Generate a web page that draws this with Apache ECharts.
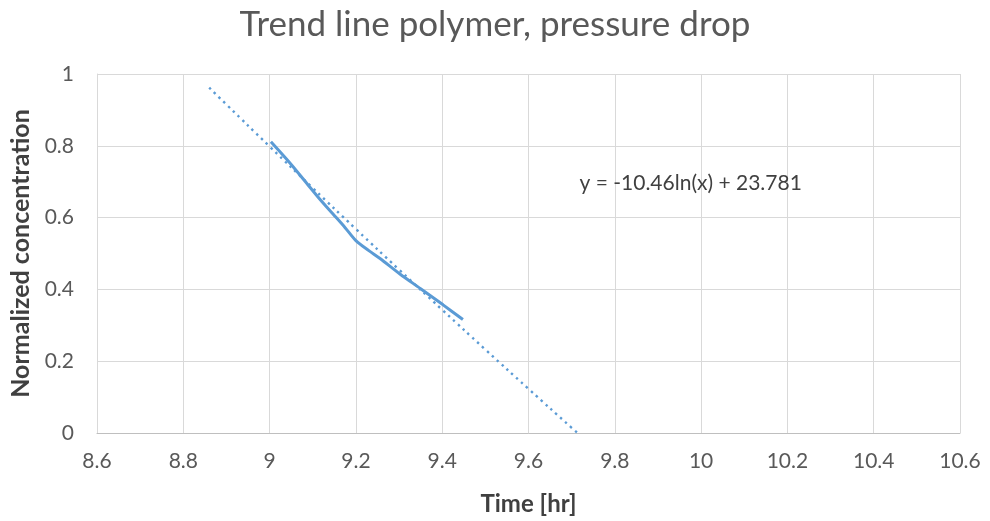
<!DOCTYPE html>
<html>
<head>
<meta charset="utf-8">
<script src="https://cdn.jsdelivr.net/npm/echarts@6/dist/echarts.min.js"></script>
<style>
  html, body { margin: 0; padding: 0; background: #fff; }
  #chart { width: 990px; height: 521px; }
</style>
</head>
<body>
<div id="chart"></div>
<script>
// Measured pressure-drop curve (time in hours, normalized concentration)
var timeHr = [9.003, 9.05, 9.085, 9.116, 9.147, 9.175, 9.2, 9.23, 9.256, 9.302, 9.35, 9.402, 9.448];
var concentration = [0.811, 0.748, 0.697, 0.652, 0.61, 0.572, 0.536, 0.508, 0.486, 0.443, 0.402, 0.357, 0.316];

// Logarithmic trend line: y = a*ln(x) + b
var trendA = -10.46;
var trendB = 23.781;
var trendXs = [8.86, 8.9, 9.0, 9.1, 9.2, 9.3, 9.4, 9.5, 9.6, 9.7, 9.714];
var trendLabel = 'y = -10.46ln(x) + 23.781';

var xTicks = [8.6, 8.8, 9, 9.2, 9.4, 9.6, 9.8, 10, 10.2, 10.4, 10.6];
var yTicks = [0, 0.2, 0.4, 0.6, 0.8, 1];

var measured = timeHr.map(function (t, i) { return [t, concentration[i]]; });
var trend = trendXs.map(function (t) { return [t, Math.max(0, trendA * Math.log(t) + trendB)]; });

var font = 'Lato, "Open Sans", sans-serif';
var chart = echarts.init(document.getElementById('chart'), null, { renderer: 'canvas' });
chart.setOption({
  animation: false,
  backgroundColor: '#ffffff',
  title: {
    text: 'Trend line polymer, pressure drop',
    left: 'center',
    top: 2,
    textStyle: { fontFamily: font, fontSize: 35, fontWeight: 'normal', color: '#595959' }
  },
  grid: { left: 97, right: 30, top: 74, bottom: 88 },
  xAxis: {
    type: 'value',
    min: xTicks[0],
    max: xTicks[xTicks.length - 1],
    interval: 0.2,
    name: 'Time [hr]',
    nameLocation: 'middle',
    nameGap: 59,
    nameTextStyle: { fontFamily: font, fontSize: 24, fontWeight: 'bold', color: '#404040' },
    axisLine: { show: true, lineStyle: { color: '#bfbfbf', width: 1 } },
    axisTick: { show: false },
    splitLine: { show: true, lineStyle: { color: '#d9d9d9', width: 1 } },
    axisLabel: {
      margin: 18,
      fontFamily: font, fontSize: 21, color: '#595959',
      formatter: function (v) { return String(Math.round(v * 10) / 10); }
    }
  },
  yAxis: {
    type: 'value',
    min: yTicks[0],
    max: yTicks[yTicks.length - 1],
    interval: 0.2,
    name: 'Normalized concentration',
    nameLocation: 'middle',
    nameGap: 63,
    nameTextStyle: { fontFamily: font, fontSize: 25, fontWeight: 'bold', color: '#404040' },
    axisLine: { show: true, lineStyle: { color: '#d9d9d9', width: 1 } },
    axisTick: { show: false },
    splitLine: { show: true, lineStyle: { color: '#d9d9d9', width: 1 } },
    axisLabel: {
      margin: 23,
      fontFamily: font, fontSize: 21, color: '#595959',
      formatter: function (v) { return String(Math.round(v * 10) / 10); }
    }
  },
  series: [
    {
      name: 'Measured',
      type: 'line',
      data: measured,
      smooth: 0.3,
      symbol: 'none',
      lineStyle: { color: '#5b9bd5', width: 3 },
      z: 3
    },
    {
      name: 'Trend',
      type: 'line',
      data: trend,
      smooth: true,
      symbol: 'none',
      lineStyle: { color: '#5b9bd5', width: 2.4, type: [2.4, 4.2] },
      z: 2,
      markPoint: {
        symbol: 'rect',
        symbolSize: 1,
        itemStyle: { color: 'rgba(0,0,0,0)' },
        label: {
          show: true,
          formatter: trendLabel,
          fontFamily: font, fontSize: 21, color: '#404040',
          position: 'right', distance: 0
        },
        data: [{ coord: [9.717, 0.695] }]
      }
    }
  ]
});
</script>
</body>
</html>
